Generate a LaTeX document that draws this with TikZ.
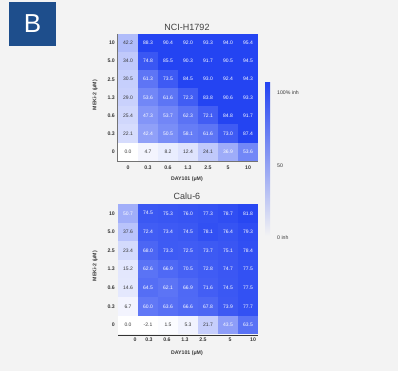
\documentclass[tikz,border=0pt]{standalone}
\usepackage{fontspec}
\setmainfont{Liberation Sans}
\definecolor{hm}{RGB}{36,68,242}
\definecolor{bgc}{RGB}{243,243,243}
\definecolor{boxb}{RGB}{30,78,140}
\definecolor{lbl}{RGB}{55,55,55}
\newcommand\drawheat[4]{% prefix, y0, rowh, data
  \foreach \lab/\vals [count=\r from 0] in {#4} {
    \node[rowlab] (#1-rl-\r) at (115,{#2+#3*(\r+0.5)}) {\lab};
    \foreach \v [count=\c from 0] in \vals {
      \pgfmathsetmacro\p{\c==0 ? max(0,min(100,\v*0.85)) : max(0,min(100,\v*1.2))}
      \pgfmathsetmacro\tw{\p>38 ? 1 : 0}
      \ifdim\tw pt>0.5pt \def\tc{white}\else\def\tc{lbl}\fi
      \node[cell, minimum height=#3pt, fill=hm!\p!white, text=\tc] (#1-\r-\c) at ({128+20*\c},{#2+#3*(\r+0.5)}) {\v};
    }
  }
}
\begin{document}
\begin{tikzpicture}[x=1pt,y=-1pt,
  cell/.style={minimum width=20pt, inner sep=0pt, draw=none, font=\fontsize{5}{5}\selectfont},
  rowlab/.style={anchor=east, inner sep=0pt, text=lbl, font=\bfseries\fontsize{5.2}{5}\selectfont},
  collab/.style={inner sep=0pt, text=lbl, font=\bfseries\fontsize{5.2}{5}\selectfont},
  axtitle/.style={inner sep=0pt, text=lbl, font=\bfseries\fontsize{5.2}{5}\selectfont},
  title/.style={inner sep=0pt, text=black!75, font=\fontsize{9}{9}\selectfont},
  cblab/.style={anchor=west, inner sep=0pt, text=lbl, font=\fontsize{5.2}{5}\selectfont}]
\fill[bgc] (0,0) rectangle (398,371);
\useasboundingbox (0,0) rectangle (398,371);
% panel label
\node[fill=boxb, text=white, minimum width=47pt, minimum height=44pt, inner sep=0pt,
  font=\fontsize{26}{26}\selectfont] (panel) at (32.5,24) {B};
% titles
\node[title] (t1) at (187,27) {NCI-H1792};
\node[title] (t2) at (187,196) {Calu-6};
% heatmaps
\drawheat{a}{34}{18.1}{10/{42.2,88.3,90.4,92.0,93.3,94.0,95.4},
 5.0/{34.0,74.8,85.5,90.3,91.7,90.5,94.5},
 2.5/{30.5,61.3,73.5,84.5,93.0,92.4,94.3},
 1.3/{29.0,53.6,61.6,72.3,83.8,90.6,93.3},
 0.6/{25.4,47.3,53.7,62.3,72.1,84.8,91.7},
 0.3/{22.1,42.4,50.5,58.1,61.6,73.0,87.4},
 0/{0.0,4.7,8.2,12.4,24.1,36.9,53.6}}
\drawheat{b}{204}{18.6}{10/{50.7,74.5,75.3,76.0,77.3,78.7,81.8},
 5.0/{37.6,72.4,73.4,74.5,78.1,76.4,79.3},
 2.5/{23.4,68.0,73.3,72.5,73.7,75.1,78.4},
 1.3/{15.2,62.6,66.9,70.5,72.8,74.7,77.5},
 0.6/{14.6,64.5,62.1,66.9,71.6,74.5,77.5},
 0.3/{6.7,60.0,63.6,66.6,67.8,73.9,77.7},
 0/{0.0,-2.1,1.5,5.3,21.7,43.5,63.5}}
% axis lines
\coordinate (a-t) at (117.5,34); \coordinate (a-l) at (117.5,161.5); \coordinate (a-r) at (258,161.5);
\draw[line width=0.5pt, black!55] (a-t) -- (a-l) -- (a-r);
\coordinate (b-l) at (118,335); \coordinate (b-r) at (258,335);
\draw[line width=0.6pt, black!80] (b-l) -- (b-r);
% column labels
\foreach \t [count=\c from 0] in {0,0.3,0.6,1.3,2.5,5,10}
  \node[collab] (a-cl-\c) at ({128+20*\c},168) {\t};
\foreach \t/\xx [count=\c from 0] in {0/135,0.3/149,0.6/167,1.3/185,2.5/203,5/230,10/253}
  \node[collab] (b-cl-\c) at (\xx,340) {\t};
\node[axtitle] (a-xt) at (187,179) {DAY101 (μM)};
\node[axtitle] (b-xt) at (187,353) {DAY101 (μM)};
\node[axtitle, rotate=90] (a-yt) at (95,95) {MEKi-2 (μM)};
\node[axtitle, rotate=90] (b-yt) at (95,266) {MEKi-2 (μM)};
% colour bar
\shade[top color=hm, bottom color=bgc] (265,83) rectangle (270,236);
\node[cblab] (cb1) at (277,93) {100\% inh};
\node[cblab] (cb2) at (277,166) {50};
\node[cblab] (cb3) at (277,238) {0 inh};
\end{tikzpicture}
\end{document}
